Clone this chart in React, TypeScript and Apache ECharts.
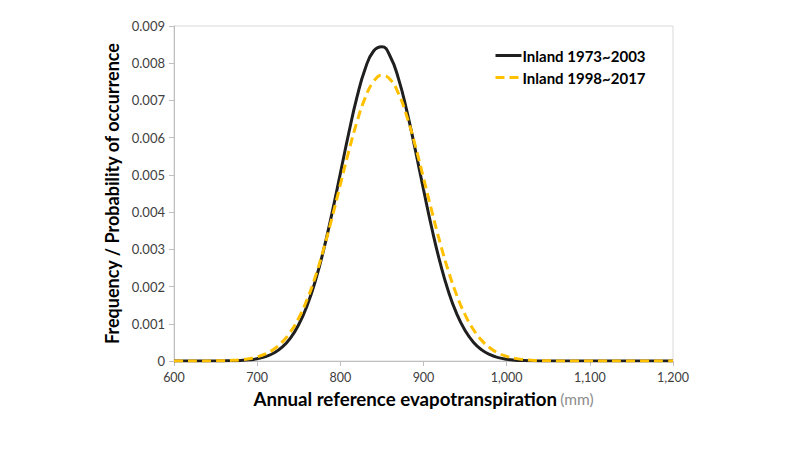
import React, { useEffect, useRef } from "react";
import * as echarts from "echarts";

const xValues = [
  600, 610, 620, 630, 640, 650, 660, 670, 680, 690, 700, 710, 720, 730, 740, 750, 760, 770, 780, 790,
  800, 810, 820, 830, 840, 850, 860, 870, 880, 890, 900, 910, 920, 930, 940, 950, 960, 970, 980, 990,
  1000, 1010, 1020, 1030, 1040, 1050, 1060, 1070, 1080, 1090, 1100, 1110, 1120, 1130, 1140, 1150, 1160,
  1170, 1180, 1190, 1200,
];

const inland1973 = [
  0, 0, 0.0000001, 0.0000002, 0.0000005, 0.0000013, 0.000003, 0.0000069, 0.000015, 0.000031,
  0.000062, 0.000118, 0.000214, 0.000371, 0.000616, 0.000979, 0.001486, 0.002157, 0.002993, 0.003972,
  0.005039, 0.006111, 0.007086, 0.007858, 0.008329, 0.008442, 0.008181, 0.00758, 0.006715, 0.005688,
  0.004606, 0.003566, 0.00264, 0.001868, 0.001264, 0.000818, 0.000506, 0.000299, 0.000169, 0.000092,
  0.000047, 0.000023, 0.000011, 0.000005, 0.000002, 0.000001, 0, 0, 0, 0,
  0, 0, 0, 0, 0, 0, 0, 0, 0, 0, 0,
];

const inland1998 = [
  0.0000001, 0.0000002, 0.0000004, 0.0000009, 0.000002, 0.0000042, 0.0000088, 0.0000176, 0.0000337, 0.000062,
  0.000112, 0.000192, 0.000318, 0.000507, 0.00078, 0.001156, 0.001651, 0.002272, 0.003013, 0.003849,
  0.004739, 0.005622, 0.006425, 0.007076, 0.007509, 0.007679, 0.007565, 0.007182, 0.00657, 0.005791,
  0.004918, 0.004025, 0.003173, 0.002411, 0.001765, 0.001245, 0.000846, 0.000554, 0.00035, 0.000213,
  0.000125, 0.00007, 0.000038, 0.00002, 0.00001, 0.0000049, 0.0000022, 0.000001, 0, 0,
  0, 0, 0, 0, 0, 0, 0, 0, 0, 0, 0,
];

const seriesNames = ["Inland 1973~2003", "Inland 1998~2017"];
const yTitle = "Frequency / Probability of occurrence";
const xTitleMain = "Annual reference evapotranspiration";
const xTitleUnit = "(mm)";

const FONT = "Lato, 'Open Sans', sans-serif";

export default function App() {
  const ref = useRef<HTMLDivElement>(null);
  useEffect(() => {
    if (!ref.current) return;
    const chart = echarts.init(ref.current, undefined, { renderer: "svg" });
    const toPairs = (ys: number[]) => xValues.map((x, i) => [x, ys[i]]);
    chart.setOption({
      animation: false,
      backgroundColor: "#ffffff",
      textStyle: { fontFamily: FONT },
      grid: {
        left: 166,
        right: 135,
        top: 18,
        bottom: 97,
        show: true,
        borderColor: "#d9d9d9",
        borderWidth: 1,
      },
      legend: {
        orient: "vertical",
        left: 481,
        top: 35,
        itemWidth: 26,
        itemHeight: 16,
        itemGap: 7,
        itemStyle: { opacity: 0 },
        lineStyle: { width: 3 },
        textStyle: { fontFamily: FONT, fontWeight: "bold", fontSize: 15, color: "#000", padding: [0, 0, 0, -4] },
        data: seriesNames,
      },
      xAxis: {
        type: "value",
        min: 600,
        max: 1200,
        interval: 100,
        axisLine: { show: true, lineStyle: { color: "#bfbfbf", width: 1 } },
        axisTick: { show: true, length: 5, lineStyle: { color: "#bfbfbf" } },
        splitLine: { show: false },
        axisLabel: {
          color: "#404040",
          fontSize: 12.5,
          margin: 10,
          fontFamily: FONT,
          formatter: (v: number) => v.toLocaleString("en-US"),
        },
        name: `{b|${xTitleMain}} {g|${xTitleUnit}}`,
        nameLocation: "middle",
        nameGap: 28,
        nameTextStyle: {
          rich: {
            b: { fontSize: 18.7, fontWeight: "bold", color: "#000", fontFamily: FONT },
            g: { fontSize: 15.5, color: "#8c8c8c", fontFamily: FONT },
          },
        },
      },
      yAxis: {
        type: "value",
        min: 0,
        max: 0.009,
        interval: 0.001,
        axisLine: { show: true, lineStyle: { color: "#bfbfbf", width: 1 } },
        axisTick: { show: true, length: 5, lineStyle: { color: "#bfbfbf" } },
        splitLine: { show: false },
        axisLabel: {
          color: "#404040",
          fontSize: 13,
          margin: 9,
          fontFamily: FONT,
          formatter: (v: number) => (v === 0 ? "0" : v.toFixed(3)),
        },
        name: yTitle,
        nameLocation: "middle",
        nameGap: 52,
        nameTextStyle: { fontSize: 18, fontWeight: "bold", color: "#000", fontFamily: FONT },
      },
      series: [
        {
          name: seriesNames[0],
          type: "line",
          data: toPairs(inland1973),
          smooth: true,
          symbol: "none",
          lineStyle: { color: "#1f1f1f", width: 3 },
          itemStyle: { color: "#1f1f1f" },
        },
        {
          name: seriesNames[1],
          type: "line",
          data: toPairs(inland1998),
          smooth: true,
          symbol: "none",
          lineStyle: { color: "#FFC000", width: 3, type: [9, 5] },
          itemStyle: { color: "#FFC000" },
        },
      ],
    });
    return () => chart.dispose();
  }, []);
  return <div ref={ref} style={{ width: 800, height: 450 }} />;
}
